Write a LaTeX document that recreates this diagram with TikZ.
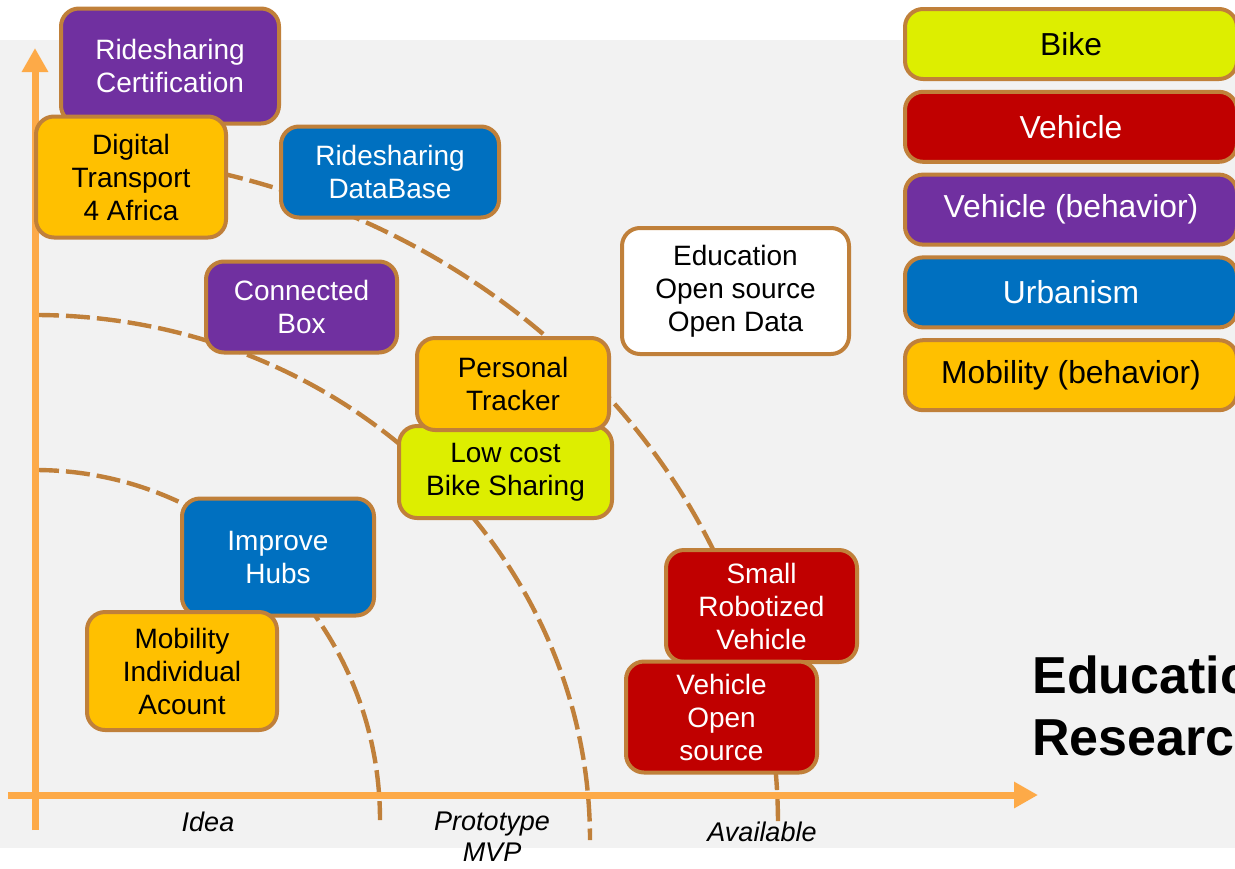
\documentclass[tikz,border=0pt]{standalone}
\usepackage{fontspec}
\setmainfont{Liberation Sans}
\usetikzlibrary{arrows.meta,
  positioning}
\definecolor{boxBorder}{HTML}{C0803A}
\definecolor{vehicleRed}{HTML}{C00000}
\definecolor{behaviorPurple}{HTML}{7030A0}
\definecolor{urbanBlue}{HTML}{0070C0}
\definecolor{mobilityYellow}{HTML}{FFC000}
\definecolor{bikeLime}{HTML}{DDEE00}
\definecolor{axisOrange}{HTML}{FDAA48}
\definecolor{panelGray}{HTML}{F2F2F2}

\begin{document}
\begin{tikzpicture}[x=0.5pt,y=-0.5pt]
    % Define styles for nodes and arrows
    \tikzstyle{card} = [rectangle, rounded corners=9pt, draw=boxBorder, line width=2pt, align=center, font=\fontsize{14}{16.5}\selectfont]
    \tikzstyle{mobility} = [card, fill=mobilityYellow, text=black]
    \tikzstyle{urbanism} = [card, fill=urbanBlue, text=white]
    \tikzstyle{behavior} = [card, fill=behaviorPurple, text=white]
    \tikzstyle{vehicle} = [card, fill=vehicleRed, text=white]
    \tikzstyle{bike} = [card, fill=bikeLime, text=black]
    \tikzstyle{legendbox} = [minimum width=166pt, minimum height=35pt, font=\fontsize{15.9}{18}\selectfont]
    \tikzstyle{axisline} = [axisOrange, line width=3.5pt, -{Triangle[width=12.5pt,length=12pt]}]
    \tikzstyle{stage} = [boxBorder, line width=2.2pt, dash pattern=on 12pt off 3.5pt]
    \tikzstyle{axislabel} = [font=\fontsize{13.5}{15.5}\selectfont\itshape, align=center]
    % Background
    \clip (0,0) rectangle (1235,868);
    \fill[panelGray] (0,40) rectangle (1235,848);
    % Stage arcs
    \draw[stage] (35,470) arc[start angle=-90, end angle=0, x radius=345, y radius=350];
    \draw[stage] (35,315) arc[start angle=-90, end angle=0, x radius=555, y radius=525];
    \draw[stage] (35,152) arc[start angle=-90, end angle=0, x radius=743, y radius=673];
    % Axes
    \coordinate (ybottom) at (35,830);
    \coordinate (ytop) at (35,48);
    \coordinate (xleft) at (8,795);
    \coordinate (xright) at (1038,795);
    \draw[axisline] (ybottom) -- (ytop);
    \draw[axisline] (xleft) -- (xright);
    \node[axislabel] (idea) at (208,822) {Idea};
    \node[axislabel] (proto) at (492,837) {Prototype\\MVP};
    \node[axislabel] (avail) at (762,832) {Available};
    % Nodes
    \node[behavior, minimum width=109pt, minimum height=57.5pt] (cert) at (170,66) {Ridesharing\\Certification};
    \node[mobility, minimum width=95pt, minimum height=60.5pt] (dt4a) at (131,177) {Digital\\Transport\\4 Africa};
    \node[urbanism, minimum width=109pt, minimum height=45.5pt] (rsdb) at (390,172) {Ridesharing\\DataBase};
    \node[behavior, minimum width=95.5pt, minimum height=45.5pt] (cbox) at (301.5,307) {Connected\\Box};
    \node[card, fill=white, minimum width=113.5pt, minimum height=63pt] (edu) at (735.5,291) {Education\\Open source\\Open Data};
    \node[bike, minimum width=106.5pt, minimum height=46pt] (lcbs) at (505.5,472) {Low cost\\Bike Sharing};
    \node[mobility, minimum width=96pt, minimum height=46pt] (ptrack) at (513,384) {Personal\\Tracker};
    \node[urbanism, minimum width=96pt, minimum height=58.5pt] (hubs) at (278,557) {Improve\\Hubs};
    \node[mobility, minimum width=95pt, minimum height=59pt] (mia) at (182,671) {Mobility\\Individual\\Acount};
    \node[vehicle, minimum width=95.5pt, minimum height=56pt] (srv) at (761.5,606) {Small\\Robotized\\Vehicle};
    \node[vehicle, minimum width=95.5pt, minimum height=55.5pt] (vos) at (721.5,717) {Vehicle\\Open\\source};
    % Legend
    \node[bike, legendbox] (lbike) at (1071,44) {Bike};
    \node[vehicle, legendbox, below=4.4pt of lbike] (lvehicle) {Vehicle};
    \node[behavior, legendbox, below=4.4pt of lvehicle] (lbehavior) {Vehicle (behavior)};
    \node[urbanism, legendbox, below=4.4pt of lbehavior] (lurban) {Urbanism};
    \node[mobility, legendbox, below=4.4pt of lurban] (lmobility) {Mobility (behavior)};
    % Title
    \node[font=\fontsize{26}{31}\selectfont\bfseries, align=left, anchor=west, inner sep=0pt] (eduresearch) at (1032,706) {Education\\Research};
\end{tikzpicture}
\end{document}
